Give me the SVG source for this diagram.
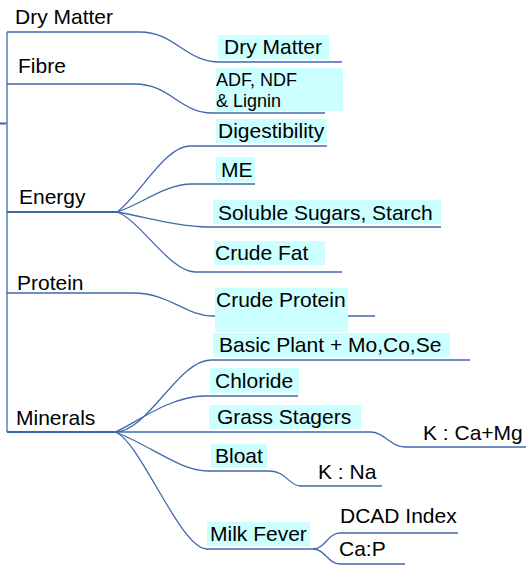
<svg xmlns="http://www.w3.org/2000/svg" width="526" height="567" viewBox="0 0 526 567">
<style>
.t{font-family:"Liberation Sans",Arial,sans-serif;font-size:21px;fill:#000}
.s{font-family:"Liberation Sans",Arial,sans-serif;font-size:18px;fill:#000}
.bg{fill:#ccffff}
.c{fill:none;stroke:#4069ad;stroke-width:1.3}
.k{fill:none;stroke:#3d67a8;stroke-width:2}
.v{fill:none;stroke:#6f95d0;stroke-width:1.8}
</style>
<rect width="526" height="567" fill="#fff"/>
<g id="connectors">
<path class="k" d="M0 123.5H7"/>
<path class="v" d="M7 32V432"/>
<path class="c" d="M7 32H140C175 32 185 62 220 62H342"/>
<path class="c" d="M7 84H135C170 84 180 113 212 113H325"/>
<path class="k" d="M7 212H117"/>
<path class="c" d="M117 212C140 195 165 146 190 146H327"/>
<path class="c" d="M117 212C140 205 165 184 192 184H255"/>
<path class="c" d="M117 212C150 218 180 227 208 227H441"/>
<path class="c" d="M117 212C140 220 170 272 195 272H342"/>
<path class="c" d="M7 293H133C170 293 185 316 213 316H375"/>
<path class="k" d="M7 432H115"/>
<path class="c" d="M115 432C148 432 178 360 211 360H470"/>
<path class="c" d="M115 432C132 426 168 396 205 396H298"/>
<path class="c" d="M115 432H370C385 432 390 447 405 447H526"/>
<path class="c" d="M115 432C150 445 180 471 208 471H270C285 471 290 486 300 486H382"/>
<path class="c" d="M115 432C140 440 180 549 207 549H313"/>
<path class="c" d="M313 549C325 549 328 533 340 533H458"/>
<path class="c" d="M313 549C325 549 328 564 340 564H405"/>
</g>
<g id="dry-matter-root"><text class="t" x="15" y="24">Dry Matter</text></g>
<g id="fibre"><text class="t" x="18" y="73">Fibre</text></g>
<g id="energy"><text class="t" x="19" y="204">Energy</text></g>
<g id="protein"><text class="t" x="17" y="290">Protein</text></g>
<g id="minerals"><text class="t" x="16" y="425">Minerals</text></g>
<g id="dry-matter"><rect class="bg" x="218" y="35" width="111" height="24"/><text class="t" x="224" y="54">Dry Matter</text></g>
<g id="adf"><rect class="bg" x="216" y="68" width="127" height="43"/><text class="s" x="216" y="86">ADF, NDF</text><text class="s" x="216" y="107">&amp; Lignin</text></g>
<g id="digestibility"><rect class="bg" x="216" y="119" width="111" height="24"/><text class="t" x="218" y="138">Digestibility</text></g>
<g id="me"><rect class="bg" x="216" y="157" width="39" height="25"/><text class="t" x="221" y="177">ME</text></g>
<g id="soluble"><rect class="bg" x="213" y="200" width="228" height="24"/><text class="t" x="218" y="220">Soluble Sugars, Starch</text></g>
<g id="crude-fat"><rect class="bg" x="214" y="241" width="111" height="24"/><text class="t" x="215" y="260">Crude Fat</text></g>
<g id="crude-protein"><rect class="bg" x="215" y="288" width="133" height="44"/><text class="t" x="216" y="307">Crude Protein</text></g>
<g id="basic-plant"><rect class="bg" x="213" y="333" width="237" height="24"/><text class="t" x="219" y="352">Basic Plant + Mo,Co,Se</text></g>
<g id="chloride"><rect class="bg" x="210" y="368" width="89" height="25"/><text class="t" x="215" y="388">Chloride</text></g>
<g id="grass-stagers"><rect class="bg" x="209" y="405" width="152" height="24"/><text class="t" x="217" y="424">Grass Stagers</text></g>
<g id="k-ca-mg"><text class="t" x="423" y="440">K : Ca+Mg</text></g>
<g id="bloat"><rect class="bg" x="211" y="444" width="56" height="24"/><text class="t" x="215" y="463">Bloat</text></g>
<g id="k-na"><text class="t" x="318" y="479">K : Na</text></g>
<g id="milk-fever"><rect class="bg" x="207" y="522" width="103" height="24"/><text class="t" x="210" y="541">Milk Fever</text></g>
<g id="dcad"><text class="t" x="340" y="523">DCAD Index</text></g>
<g id="cap"><text class="t" x="339" y="556">Ca:P</text></g>
</svg>
